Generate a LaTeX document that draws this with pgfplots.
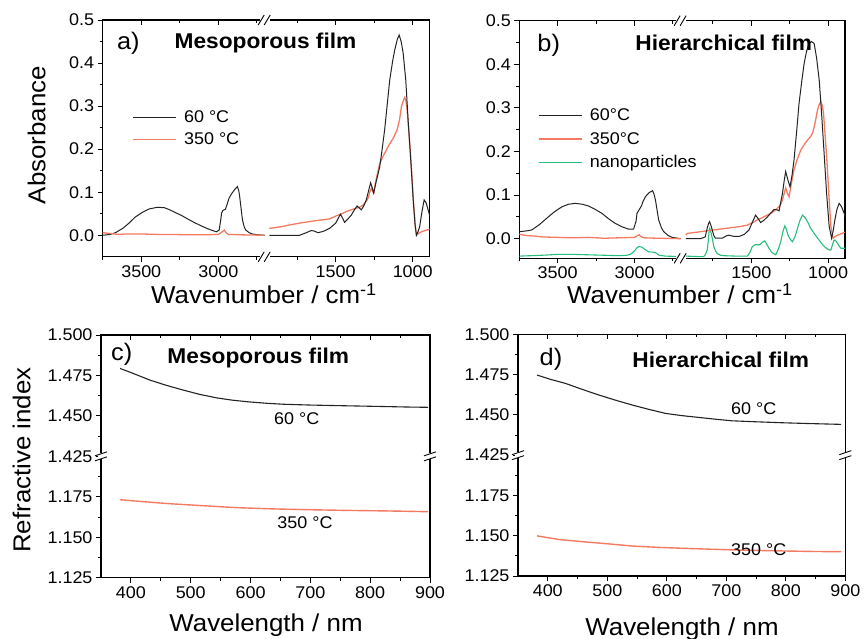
\documentclass[border=0pt]{standalone}
\usepackage{fontspec}
\setmainfont{Liberation Sans}[FakeStretch=1.06]
\usepackage{pgfplots}
\usepackage{pgfplotstable}
\pgfplotsset{compat=1.18}

\definecolor{c60}{RGB}{35,35,35}
\definecolor{c350}{RGB}{245,122,98}
\definecolor{cnp}{RGB}{38,190,122}

\newcommand\fTick{\fontsize{17}{20}\selectfont}
\newcommand\fLab{\fontsize{24.5}{28}\selectfont}
\newcommand\fTit{\fontsize{21.5}{24}\selectfont\bfseries}
\newcommand\fLet{\fontsize{24}{28}\selectfont}
\newcommand\fLeg{\fontsize{17}{20}\selectfont}

% spectra: high wavenumber part plotted as is, low part shifted by +740 (axis break)
\pgfplotstableread{
wn A
3750 0.000
3700 0.002
3667 0.006
3620 0.016
3580 0.028
3540 0.042
3494 0.053
3450 0.061
3396 0.065
3350 0.064
3321 0.060
3280 0.053
3234 0.045
3190 0.036
3147 0.028
3100 0.020
3061 0.014
3030 0.010
3013 0.008
2995 0.012
2985 0.035
2979 0.052
2970 0.058
2955 0.060
2945 0.070
2931 0.086
2915 0.096
2905 0.101
2890 0.108
2877 0.113
2868 0.104
2862 0.090
2852 0.060
2844 0.036
2833 0.020
2822 0.012
2800 0.006
2780 0.003
2740 0.001
2700 0.000
}\aLsixty
\pgfplotstableread{
wn A
3750 0.006
3700 0.004
3650 0.002
3600 0.003
3500 0.003
3400 0.002
3300 0.002
3200 0.001
3100 0.001
3000 0.002
2975 0.008
2962 0.012
2950 0.006
2935 0.002
2850 0.001
2700 0.000
}\aLthree
\pgfplotstableread{
wn A
1930 0.000
1800 0.000
1734 0.000
1690 0.006
1658 0.011
1640 0.010
1614 0.006
1580 0.009
1539 0.016
1500 0.028
1482 0.040
1469 0.049
1455 0.040
1442 0.030
1420 0.038
1398 0.047
1380 0.058
1361 0.068
1345 0.063
1333 0.059
1315 0.070
1301 0.082
1285 0.105
1273 0.122
1262 0.110
1253 0.098
1240 0.120
1214 0.159
1200 0.195
1182 0.245
1165 0.305
1149 0.361
1130 0.405
1117 0.430
1100 0.455
1088 0.465
1075 0.450
1062 0.423
1045 0.360
1030 0.268
1012 0.170
997 0.082
985 0.025
976 0.000
966 0.008
955 0.020
940 0.055
926 0.082
913 0.075
900 0.059
890 0.045
}\aRsixty
\pgfplotstableread{
wn A
1930 0.016
1850 0.020
1799 0.024
1720 0.029
1647 0.033
1580 0.036
1539 0.038
1496 0.045
1460 0.050
1431 0.055
1400 0.059
1366 0.063
1340 0.066
1322 0.070
1300 0.080
1290 0.086
1275 0.104
1268 0.109
1260 0.102
1253 0.098
1240 0.125
1214 0.167
1190 0.185
1171 0.198
1150 0.212
1127 0.225
1101 0.245
1085 0.270
1073 0.299
1060 0.314
1052 0.320
1044 0.312
1036 0.291
1025 0.240
1015 0.190
1003 0.125
993 0.066
983 0.020
976 0.000
960 0.005
944 0.008
920 0.011
890 0.014
}\aRthree
\pgfplotstableread{
wn A
3750 0.016
3700 0.018
3669 0.020
3620 0.032
3561 0.050
3520 0.062
3473 0.073
3430 0.079
3386 0.081
3340 0.079
3300 0.075
3255 0.067
3212 0.058
3170 0.046
3125 0.035
3080 0.027
3039 0.022
3006 0.022
2990 0.040
2984 0.058
2969 0.067
2955 0.075
2945 0.085
2930 0.096
2915 0.102
2903 0.106
2882 0.110
2873 0.102
2864 0.089
2853 0.065
2843 0.043
2825 0.025
2810 0.016
2780 0.007
2755 0.003
2700 0.000
}\bLsixty
\pgfplotstableread{
wn A
3750 0.010
3700 0.007
3650 0.006
3600 0.004
3500 0.003
3400 0.002
3300 0.003
3200 0.001
3100 0.002
3000 0.003
2980 0.007
2970 0.009
2960 0.005
2940 0.002
2850 0.001
2700 0.000
}\bLthree
\pgfplotstableread{
wn A
3750 -0.040
3600 -0.038
3500 -0.036
3400 -0.036
3300 -0.037
3200 -0.038
3100 -0.039
3050 -0.038
3027 -0.036
3000 -0.028
2985 -0.021
2973 -0.018
2955 -0.019
2935 -0.024
2910 -0.030
2880 -0.031
2864 -0.032
2840 -0.038
2800 -0.040
2700 -0.041
}\bLnp
\pgfplotstableread{
wn A
1926 0.000
1830 0.000
1800 0.004
1787 0.024
1778 0.035
1772 0.039
1765 0.033
1754 0.020
1745 0.008
1733 0.001
1689 0.001
1665 0.006
1646 0.008
1610 0.005
1580 0.005
1545 0.010
1515 0.020
1490 0.040
1472 0.054
1455 0.046
1439 0.037
1415 0.043
1395 0.050
1370 0.060
1352 0.067
1330 0.066
1319 0.064
1305 0.090
1297 0.104
1285 0.135
1276 0.154
1262 0.135
1248 0.119
1235 0.145
1222 0.180
1205 0.245
1189 0.311
1170 0.365
1156 0.402
1140 0.430
1124 0.448
1108 0.452
1091 0.448
1075 0.415
1058 0.364
1042 0.285
1026 0.196
1010 0.105
993 0.028
977 0.001
966 0.020
956 0.043
942 0.068
928 0.081
912 0.073
895 0.058
890 0.050
}\bRsixty
\pgfplotstableread{
wn A
1926 0.008
1917 0.012
1830 0.016
1744 0.020
1680 0.023
1613 0.026
1570 0.028
1526 0.031
1490 0.037
1461 0.043
1430 0.048
1395 0.054
1360 0.061
1330 0.070
1310 0.078
1297 0.089
1285 0.105
1276 0.116
1265 0.104
1254 0.096
1240 0.125
1222 0.158
1200 0.183
1178 0.203
1155 0.216
1134 0.226
1115 0.234
1101 0.242
1085 0.265
1069 0.295
1058 0.308
1047 0.314
1038 0.305
1030 0.288
1020 0.240
1008 0.180
995 0.100
982 0.028
967 0.001
955 0.005
938 0.008
910 0.012
890 0.015
}\bRthree
\pgfplotstableread{
wn A
1926 -0.040
1850 -0.041
1809 -0.041
1798 -0.036
1787 -0.026
1780 -0.005
1775 0.015
1772 0.024
1766 0.020
1761 0.012
1752 -0.003
1744 -0.018
1733 -0.028
1722 -0.034
1700 -0.038
1679 -0.039
1600 -0.040
1526 -0.040
1510 -0.032
1493 -0.018
1475 -0.014
1461 -0.014
1445 -0.014
1430 -0.009
1413 -0.005
1400 -0.012
1385 -0.022
1365 -0.032
1341 -0.037
1325 -0.025
1308 -0.007
1295 0.015
1282 0.029
1272 0.022
1261 0.008
1245 -0.002
1232 -0.007
1215 0.005
1199 0.024
1183 0.042
1167 0.054
1150 0.048
1134 0.039
1115 0.025
1091 0.012
1070 0.002
1047 -0.009
1025 -0.018
1004 -0.024
990 -0.026
982 -0.026
970 -0.012
962 -0.004
956 -0.003
948 -0.006
938 -0.011
928 -0.017
917 -0.022
900 -0.022
890 -0.022
}\bRnp
% refractive index: upper values plotted shifted by -0.225 (axis break)
\pgfplotstableread{
wl n
382 1.4793
400 1.4768
432 1.4721
460 1.4688
488 1.4659
515 1.4633
544 1.4611
570 1.4597
599 1.4586
627 1.4578
655 1.4572
700 1.4567
739 1.4564
780 1.4561
822 1.4558
860 1.4555
897 1.4553
}\csixty
\pgfplotstableread{
wl n
382 1.1732
420 1.1720
466 1.1707
520 1.1695
576 1.1683
640 1.1675
700 1.1670
760 1.1666
822 1.1663
897 1.1658
}\cthree
\pgfplotstableread{
wl n
382 1.4747
405 1.4720
430 1.4695
458 1.4658
486 1.4623
514 1.4591
542 1.4561
570 1.4534
598 1.4509
626 1.4495
654 1.4484
682 1.4473
710 1.4463
750 1.4457
794 1.4451
840 1.4446
893 1.4441
}\dsixty
\pgfplotstableread{
wl n
382 1.1499
420 1.1476
458 1.1463
500 1.1450
542 1.1436
584 1.1428
626 1.1422
668 1.1417
710 1.1412
760 1.1408
800 1.1405
850 1.1402
893 1.1401
}\dthree

\pgfplotsset{
  base/.style={scale only axis, anchor=south west,
    axis line style={line width=1.1bp},
    tick style={line width=0.9bp, black},
    major tick length=5bp, minor tick length=3bp,
    tick align=outside, xtick pos=bottom, ytick pos=left,
    ticklabel style={font=\fTick},
    /pgf/number format/assume math mode=true,
    clip mode=individual},
  topax/.style={scale only axis, anchor=south west,
    axis x line*=top, axis y line=none,
    axis line style={line width=1.1bp,-},
    tick style={line width=0.9bp, black},
    major tick length=5bp, minor tick length=3bp,
    tick align=inside, xticklabels={}, ytick=\empty,
    clip mode=individual},
  spec/.style={x dir=reverse, xmin=1630, xmax=3750,
    xtick={3500,3000,2240,1740}, xticklabels={3500,3000,1500,1000},
    minor xtick={3750,3250,2750,2490,1990}},
  ridx/.style={xmin=350, xmax=900, ymin=1.125, ymax=1.275,
    xtick={400,500,...,900}, minor x tick num=1,
    ytick={1.125,1.15,1.175,1.2,1.225,1.25,1.275},
    yticklabels={1.125,1.150,1.175,1.425,1.450,1.475,1.500},
    minor y tick num=1},
  leg/.style 2 args={legend style={draw=none, fill=none, at={(axis description cs:#1)},
      anchor=north west, font=\fLeg, row sep=#2, inner sep=0pt,
      nodes={inner sep=2.5bp},
      /tikz/every odd column/.append style={column sep=5bp}},
    legend cell align=left,
    legend image code/.code={\draw[##1,line width=1.3bp] (0bp,0bp) -- (43bp,0bp);}},
}

\newcommand{\xbrk}[1]{%
  \fill[white] ([xshift=-6bp,yshift=-2.5bp]rel axis cs:0.5,#1) rectangle ([xshift=4bp,yshift=2.5bp]rel axis cs:0.5,#1);
  \draw[line width=0.9bp] ([xshift=-8bp,yshift=-5bp]rel axis cs:0.5,#1) -- ([xshift=-2bp,yshift=5bp]rel axis cs:0.5,#1);
  \draw[line width=0.9bp] ([xshift=-2bp,yshift=-5bp]rel axis cs:0.5,#1) -- ([xshift=4bp,yshift=5bp]rel axis cs:0.5,#1);
}
\newcommand{\ybrk}[1]{%
  \fill[white] ([xshift=-3bp,yshift=-3bp]rel axis cs:#1,0.5) rectangle ([xshift=3bp,yshift=3bp]rel axis cs:#1,0.5);
  \draw[line width=0.9bp] ([xshift=-6bp,yshift=-4.5bp]rel axis cs:#1,0.5) -- ([xshift=6bp,yshift=-0.5bp]rel axis cs:#1,0.5);
  \draw[line width=0.9bp] ([xshift=-6bp,yshift=0.5bp]rel axis cs:#1,0.5) -- ([xshift=6bp,yshift=4.5bp]rel axis cs:#1,0.5);
}

\begin{document}
\begin{tikzpicture}
\path[use as bounding box] (0,0) rectangle (864bp,639bp);

% ---------- a) ----------
\begin{axis}[base, spec, at={(102.7bp,382.2bp)}, width=327bp, height=236.8bp,
  ymin=-0.05, ymax=0.5, ytick={0,0.1,0.2,0.3,0.4,0.5},
  yticklabels={0.0,0.1,0.2,0.3,0.4,0.5}, minor y tick num=1,
  leg={0.09,0.628}{4bp}]
\addplot[c60, line width=1bp] table[x=wn, y=A] {\aLsixty};
\addlegendentry{60 °C}
\addplot[c350, line width=1.3bp] table[x=wn, y=A] {\aLthree};
\addlegendentry{350 °C}
\addplot[c350, line width=1.3bp, forget plot] table[x expr=\thisrow{wn}+740, y=A] {\aRthree};
\addplot[c60, line width=1bp, forget plot] table[x expr=\thisrow{wn}+740, y=A] {\aRsixty};
\end{axis}
\begin{axis}[spec, topax, at={(102.7bp,382.2bp)}, width=327bp, height=236.8bp,
  ymin=-0.05, ymax=0.5]
\xbrk{0}\xbrk{1}
\end{axis}

% ---------- b) ----------
\begin{axis}[base, spec, at={(519.3bp,380.7bp)}, width=325.7bp, height=237.6bp,
  ymin=-0.045, ymax=0.5, ytick={0,0.1,0.2,0.3,0.4,0.5},
  yticklabels={0.0,0.1,0.2,0.3,0.4,0.5}, minor y tick num=1,
  leg={0.057,0.64}{5bp}]
\addplot[c60, line width=1bp] table[x=wn, y=A] {\bLsixty};
\addlegendentry{60°C}
\addplot[c350, line width=1.3bp] table[x=wn, y=A] {\bLthree};
\addlegendentry{350°C}
\addplot[cnp, line width=1.1bp] table[x=wn, y=A] {\bLnp};
\addlegendentry{nanoparticles}
\addplot[cnp, line width=1.1bp, forget plot] table[x expr=\thisrow{wn}+740, y=A] {\bRnp};
\addplot[c350, line width=1.3bp, forget plot] table[x expr=\thisrow{wn}+740, y=A] {\bRthree};
\addplot[c60, line width=1bp, forget plot] table[x expr=\thisrow{wn}+740, y=A] {\bRsixty};
\end{axis}
\begin{axis}[spec, topax, at={(519.3bp,380.7bp)}, width=325.7bp, height=237.6bp,
  ymin=-0.045, ymax=0.5]
\xbrk{0}\xbrk{1}
\end{axis}

% ---------- c) ----------
\begin{axis}[base, ridx, at={(101bp,61.3bp)}, width=329bp, height=242.7bp]
\addplot[c60, line width=1.1bp] table[x=wl, y expr=\thisrow{n}-0.225] {\csixty};
\addplot[c350, line width=1.4bp] table[x=wl, y=n] {\cthree};
\ybrk{0}\ybrk{1}
\end{axis}
\begin{axis}[ridx, topax, at={(101bp,61.3bp)}, width=329bp, height=242.7bp]
\end{axis}

% ---------- d) ----------
\begin{axis}[base, ridx, at={(518bp,63bp)}, width=327.3bp, height=241.7bp]
\addplot[c60, line width=1.1bp] table[x=wl, y expr=\thisrow{n}-0.225] {\dsixty};
\addplot[c350, line width=1.4bp] table[x=wl, y=n] {\dthree};
\ybrk{0}\ybrk{1}
\end{axis}
\begin{axis}[ridx, topax, at={(518bp,63bp)}, width=327.3bp, height=241.7bp]
\end{axis}

% ---------- texts ----------
\node[font=\fLet] at (128.3bp,595.7bp) {a)};
\node[font=\fTit] at (265.5bp,595.7bp) {Mesoporous film};
\node[font=\fLet] at (548.7bp,594bp) {b)};
\node[font=\fTit] at (723.7bp,595.7bp) {Hierarchical film};
\node[font=\fLet] at (121.8bp,285bp) {c)};
\node[font=\fTit] at (258.3bp,281.5bp) {Mesoporous film};
\node[font=\fLet] at (551bp,280bp) {d)};
\node[font=\fTit] at (720.8bp,279bp) {Hierarchical film};

\node[font=\fLab, rotate=90] at (36.7bp,504bp) {Absorbance};
\node[font=\fLab, rotate=90] at (21.7bp,179bp) {Refractive index};
\node[font=\fLab, anchor=base] at (264bp,335bp) {Wavenumber / cm\textsuperscript{-1}};
\node[font=\fLab, anchor=base] at (680bp,335bp) {Wavenumber / cm\textsuperscript{-1}};
\node[font=\fLab, anchor=base] at (266bp,7.3bp) {Wavelength / nm};
\node[font=\fLab, anchor=base] at (682bp,4bp) {Wavelength / nm};

\node[font=\fLeg] at (296.7bp,220.7bp) {60 °C};
\node[font=\fLeg] at (305bp,116.3bp) {350 °C};
\node[font=\fLeg] at (753.7bp,230.3bp) {60 °C};
\node[font=\fLeg] at (758.7bp,89.5bp) {350 °C};
\end{tikzpicture}
\end{document}
